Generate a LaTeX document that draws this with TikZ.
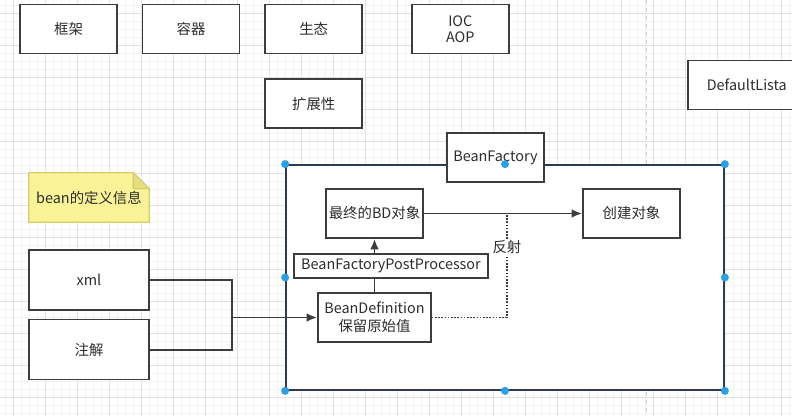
\documentclass[tikz,border=0pt]{standalone}
\usepackage{fontspec}
\setmainfont{Noto Sans CJK SC}
\usetikzlibrary{arrows.meta,positioning,calc,backgrounds}
\definecolor{BoxLine}{RGB}{60,60,60}
\definecolor{TextGray}{RGB}{45,45,45}
\definecolor{GridMinor}{RGB}{243,243,243}
\definecolor{GridMajor}{RGB}{226,226,226}
\definecolor{PageLine}{RGB}{205,205,205}
\definecolor{NoteFill}{RGB}{250,242,150}
\definecolor{NoteLine}{RGB}{214,204,110}
\definecolor{NoteFold}{RGB}{232,222,128}
\definecolor{FrameLine}{RGB}{45,60,78}
\definecolor{HandleBlue}{RGB}{41,160,232}

\begin{document}
\begin{tikzpicture}[x=0.75pt,y=-0.75pt,node distance=18pt,>={Latex[length=8pt,width=6.5pt]},
  txt/.style={text=TextGray,font=\fontsize{10.8}{12}\selectfont},
  box/.style={txt,draw=BoxLine,line width=1.2pt,fill=white,minimum width=72.75pt,minimum height=36.75pt,inner sep=2pt,align=center},
  link/.style={draw=BoxLine,line width=1.4pt},
  reflink/.style={draw=BoxLine,line width=1.1pt,dash pattern=on 1.2pt off 1.2pt},
  handle/.style={fill=HandleBlue}]

\useasboundingbox (0,0) rectangle (792,416);
\clip (0,0) rectangle (792,416);

% grid of the canvas
\begin{scope}[on background layer]
\fill[white] (0,0) rectangle (792,416);
\foreach \k in {0,...,98} \draw[GridMinor,line width=0.5pt] ({5+8*\k},0) -- ({5+8*\k},416);
\foreach \k in {0,...,51} \draw[GridMinor,line width=0.5pt] (0,{5+8*\k}) -- (792,{5+8*\k});
\foreach \k in {0,...,24} \draw[GridMajor,line width=0.6pt] ({13+32*\k},0) -- ({13+32*\k},416);
\foreach \k in {0,...,12} \draw[GridMajor,line width=0.6pt] (0,{13+32*\k}) -- (792,{13+32*\k});
\draw[PageLine,line width=0.6pt,dash pattern=on 3pt off 3pt] (646,0) -- (646,416);
\end{scope}

% top row
\node[box] (frame) at (68.5,29) {框架};
\node[box,right=of frame] (cont) {容器};
\node[box,right=of cont] (eco) {生态};
\node[box,below=of eco] (ext) {扩展性};
\node[box,right=36pt of eco] (ioc) {IOC\\AOP};
\node[box,anchor=west,minimum width=0pt,inner xsep=14.25pt,text width=100pt,align=left] (dfl) at (687,85) {DefaultLista};

% note
\node[txt,minimum width=90pt,minimum height=36.75pt,inner sep=0pt] (info) at (89,197.5) {bean的定义信息};
\begin{scope}[on background layer]
\filldraw[fill=NoteFill,draw=NoteLine,line width=0.8pt] (info.north west) -- ([xshift=-12pt]info.north east) -- ([yshift=-12pt]info.north east) -- (info.south east) -- (info.south west) -- cycle;
\filldraw[fill=NoteFold,draw=NoteLine,line width=0.8pt] ([xshift=-12pt]info.north east) -- ([xshift=-12pt,yshift=-12pt]info.north east) -- ([yshift=-12pt]info.north east) -- cycle;
\end{scope}

% sources
\node[box,minimum width=90pt,minimum height=45pt] (xml) at (89,280) {xml};
\node[box,minimum width=90pt,minimum height=45pt,below=6pt of xml] (ann) {注解};

% bean factory container
\node[draw=FrameLine,line width=1.3pt,fill=white,minimum width=328.5pt,minimum height=168.75pt] (bf) at (505,277.5) {};
\node[box] (bfname) at (495.5,157.5) {BeanFactory};
\node[box] (final) at (374.5,213.5) {最终的BD对象};
\node[box] (create) at (631.5,213.5) {创建对象};
\node[box,minimum width=145.5pt,minimum height=18pt,inner sep=1pt] (bfpp) at (391,266) {BeanFactoryPostProcessor};
\node[box,minimum width=84.75pt,font=\fontsize{10.8}{13.5}\selectfont] (def) at (374.5,317.5) {BeanDefinition\\保留原始值};

% connectors
\path (def.west) ++(-85,0) coordinate (merge);
\draw[link] (xml.east) -| (merge) |- (ann.east);
\draw[link,->] (merge) -- (def.west);
\draw[link] (def.north) -- (def.north |- bfpp.south);
\draw[link,->] (bfpp.north -| final.south) -- (final.south);
\draw[link,->] (final.east) -- (create.west);
\coordinate (tap) at ($(final.east)!0.525!(create.west)$);
\draw[reflink] (def.east) -| (tap);
\node[txt,fill=white,inner sep=1pt] (refl) at ($(tap)!0.32!(tap |- def.east)$) {反射};

% selection handles
\foreach \a in {north west,north,north east,west,east,south west,south,south east}
  \fill[handle] (bf.\a) circle (3pt);

\end{tikzpicture}
\end{document}
